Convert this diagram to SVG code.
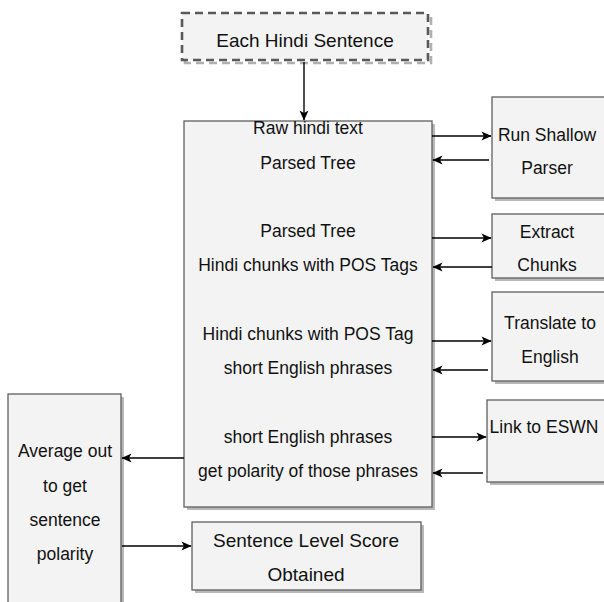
<svg xmlns="http://www.w3.org/2000/svg" width="604" height="602" viewBox="0 0 604 602">
<defs>
<style>
.box{fill:#f3f3f3;stroke:#5f5f5f;stroke-width:1.3}
.sh{fill:#b8b8b8;stroke:none}
.dash{fill:#f3f3f3;stroke:#595959;stroke-width:2.6;stroke-dasharray:8 5}
.dsh{fill:none;stroke:#b0b0b0;stroke-width:2.6;stroke-dasharray:8 5}
text{font-family:"Liberation Sans",Arial,Helvetica,sans-serif;font-size:17.5px;fill:#111;text-anchor:middle}
.big{font-size:19px}
.c{stroke:#000;stroke-width:1.4;fill:none;marker-end:url(#ah)}
</style>
<marker id="ah" viewBox="0 0 10 10" refX="9.5" refY="5" markerWidth="11" markerHeight="10" markerUnits="userSpaceOnUse" orient="auto">
<path d="M0,0.5 L10,5 L0,9.5 L2.5,5 Z" fill="#000"/>
</marker>
</defs>
<rect width="604" height="602" fill="#fff"/>

<g id="n-start">
<rect class="dsh" x="185" y="16" width="246" height="47"/>
<rect class="dash" x="182" y="13" width="246" height="47"/>
<text class="big" x="305" y="47">Each Hindi Sentence</text>
</g>

<g id="n-main">
<rect class="sh" x="187" y="124" width="248" height="386"/>
<rect class="box" x="184" y="121" width="248" height="386"/>
<text x="308" y="134">Raw hindi text</text>
<text x="308" y="169">Parsed Tree</text>
<text x="308" y="237">Parsed Tree</text>
<text x="308" y="271">Hindi chunks with POS Tags</text>
<text x="308" y="340">Hindi chunks with POS Tag</text>
<text x="308" y="374">short English phrases</text>
<text x="308" y="443">short English phrases</text>
<text x="308" y="477">get polarity of those phrases</text>
</g>

<g id="n-parser">
<rect class="sh" x="495" y="100" width="114" height="101"/>
<rect class="box" x="492" y="97" width="114" height="101"/>
<text x="547" y="141">Run Shallow</text>
<text x="547" y="174">Parser</text>
</g>

<g id="n-chunks">
<rect class="sh" x="495" y="217" width="114" height="64"/>
<rect class="box" x="492" y="214" width="114" height="64"/>
<text x="547" y="238">Extract</text>
<text x="547" y="271">Chunks</text>
</g>

<g id="n-translate">
<rect class="sh" x="495" y="295" width="114" height="89"/>
<rect class="box" x="492" y="292" width="114" height="89"/>
<text x="550" y="329">Translate to</text>
<text x="550" y="363">English</text>
</g>

<g id="n-eswn">
<rect class="sh" x="490" y="403" width="119" height="82"/>
<rect class="box" x="487" y="400" width="119" height="82"/>
<text x="544" y="433">Link to ESWN</text>
</g>

<g id="n-average">
<rect class="sh" x="11" y="397" width="113" height="220"/>
<rect class="box" x="8" y="394" width="113" height="220"/>
<text x="65" y="457">Average out</text>
<text x="65" y="492">to get</text>
<text x="65" y="526">sentence</text>
<text x="65" y="560">polarity</text>
</g>

<g id="n-score">
<rect class="sh" x="195" y="525" width="229" height="68"/>
<rect class="box" x="192" y="522" width="229" height="68"/>
<text class="big" x="306" y="547">Sentence Level Score</text>
<text class="big" x="306" y="581">Obtained</text>
</g>

<g id="connectors">
<path class="c" d="M304,62 L304,120"/>
<path class="c" d="M432,136 L491,136"/>
<path class="c" d="M489,160 L433,160"/>
<path class="c" d="M432,238 L491,238"/>
<path class="c" d="M492,267 L433,267"/>
<path class="c" d="M432,341 L491,341"/>
<path class="c" d="M488,370 L433,370"/>
<path class="c" d="M432,437 L486,437"/>
<path class="c" d="M483,473 L433,473"/>
<path class="c" d="M184,458 L122,458"/>
<path class="c" d="M122,546 L191,546"/>
</g>
</svg>
